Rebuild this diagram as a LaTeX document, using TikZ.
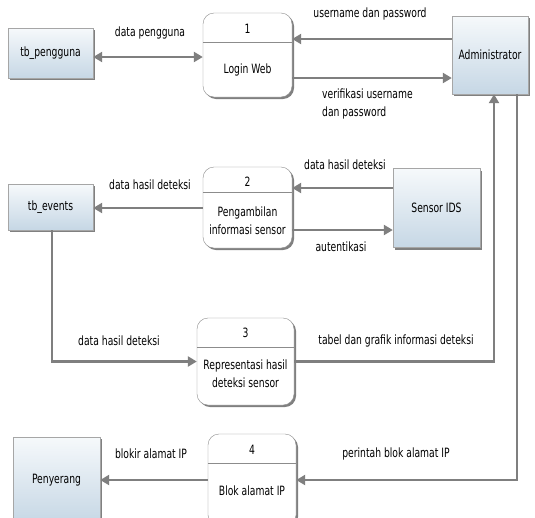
\documentclass[tikz,border=0pt]{standalone}
\usepackage{fontspec}
\setmainfont[FakeStretch=0.72]{DejaVu Sans}
\usetikzlibrary{arrows.meta,shadows,calc}
\definecolor{linegray}{HTML}{7F7F7F}
\definecolor{boxtop}{HTML}{F6F9FB}
\definecolor{boxbot}{HTML}{C6D7E5}
\begin{document}
\begin{tikzpicture}[x=1pt,y=-1pt,
  font=\fontsize{12.8}{18}\selectfont,
  entity/.style={draw=black!35, top color=boxtop, bottom color=boxbot, inner sep=0pt,
    drop shadow={shadow xshift=2pt,shadow yshift=-2pt,fill=black!55,opacity=0.9}},
  proc/.style={draw=black!45, fill=white, rounded corners=11pt, inner sep=0pt,
    drop shadow={shadow xshift=2pt,shadow yshift=-2pt,fill=black!55,opacity=0.9}},
  divider/.style={draw=black!45, line width=0.8pt},
  flow/.style={draw=linegray, line width=2.6pt, -{Triangle[length=9pt,width=10pt]}},
  route/.style={draw=linegray, line width=2.2pt},
  lbl/.style={inner sep=1pt, text=black},
  ptext/.style={inner sep=1pt, align=center, text=black}]
\useasboundingbox (0,0) rectangle (535,517);
\clip (0,0) rectangle (535,517);
\fill[white] (0,0) rectangle (535,517);

% external entities
\node[entity, minimum width=85pt, minimum height=50pt] (tbp) at (50.5,53) {tb\_pengguna};
\node[entity, minimum width=76pt, minimum height=78pt] (adm) at (490,55) {Administrator};
\node[entity, minimum width=85pt, minimum height=46pt] (tbe) at (50.5,207) {tb\_events};
\node[entity, minimum width=87pt, minimum height=79pt] (sens) at (436.5,208) {Sensor IDS};
\node[entity, minimum width=87pt, minimum height=86pt] (pen) at (56.5,480) {Penyerang};

% processes
\node[proc, minimum width=89pt, minimum height=84pt] (p1) at (247.5,55) {};
\draw[divider] (p1.west |- 0,42) -- (p1.east |- 0,42);
\node[ptext] (p1n) at (247.5,29) {1};
\node[ptext] (p1t) at (247.5,70) {Login Web};

\node[proc, minimum width=89pt, minimum height=81pt] (p2) at (247.5,207.5) {};
\draw[divider] (p2.west |- 0,192) -- (p2.east |- 0,192);
\node[ptext] (p2n) at (247.5,182) {2};
\node[ptext] (p2t) at (247.5,221) {Pengambilan\\informasi sensor};

\node[proc, minimum width=97pt, minimum height=87pt] (p3) at (245.5,361.5) {};
\draw[divider] (p3.west |- 0,347) -- (p3.east |- 0,347);
\node[ptext] (p3n) at (245.5,333) {3};
\node[ptext] (p3t) at (245.5,374) {Representasi hasil\\deteksi sensor};

\node[proc, minimum width=88pt, minimum height=92pt] (p4) at (252,480) {};
\draw[divider] (p4.west |- 0,463) -- (p4.east |- 0,463);
\node[ptext] (p4n) at (252,450) {4};
\node[ptext] (p4t) at (252,491) {Blok alamat IP};

% connectors
\draw[flow, {Triangle[length=9pt,width=10pt]}-{Triangle[length=9pt,width=10pt]}] (tbp.east |- 0,57) -- (p1.west |- 0,57);
\draw[flow] (adm.west |- 0,39) -- (p1.east |- 0,39);
\draw[flow] (p1.east |- 0,78) -- (adm.west |- 0,78);
\draw[flow] (p2.west |- 0,208) -- (tbe.east |- 0,208);
\draw[flow] (sens.west |- 0,188) -- (p2.east |- 0,188);
\draw[flow] (p2.east |- 0,230) -- (sens.west |- 0,230);
\draw[route, -{Triangle[length=9pt,width=10pt]}] ([xshift=1.5pt]tbe.south) |- (p3.west);
\draw[route, -{Triangle[length=9pt,width=10pt]}] (p3.east) -| ([xshift=4pt]adm.south);
\draw[route, -{Triangle[length=9pt,width=10pt]}] ([xshift=27pt]adm.south) |- (p4.east);
\draw[flow] (p4.west) -- (pen.east);

% labels
\node[lbl] (l1) at (150,33) {data pengguna};
\node[lbl] (l2) at (370,14) {username dan password};
\node[lbl, align=left, anchor=north west] (l3) at (321,88) {verifikasi username\\dan password};
\node[lbl] (l4) at (150,185) {data hasil deteksi};
\node[lbl] (l5) at (345,165) {data hasil deteksi};
\node[lbl] (l6) at (341,247) {autentikasi};
\node[lbl] (l7) at (119,341) {data hasil deteksi};
\node[lbl] (l8) at (396,341) {tabel dan grafik informasi deteksi};
\node[lbl] (l9) at (151,454) {blokir alamat IP};
\node[lbl] (l10) at (396,454) {perintah blok alamat IP};
\end{tikzpicture}
\end{document}
